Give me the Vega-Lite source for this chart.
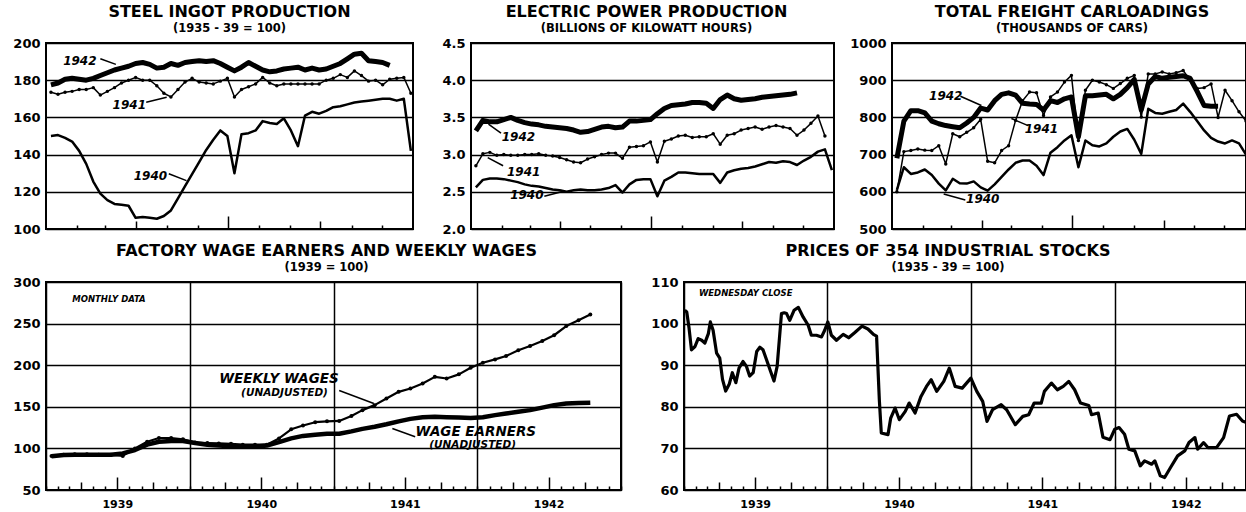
{
"$schema": "https://vega.github.io/schema/vega-lite/v6.json",
"padding": {"left": 11, "top": 2, "right": 0, "bottom": 0},
"background": "white",
"config": {
  "view": {"stroke": "black", "strokeWidth": 2},
  "font": "DejaVu Sans",
  "title": {"font": "DejaVu Sans", "fontSize": 16, "fontWeight": "bold", "color": "black", "subtitleFont": "DejaVu Sans", "subtitleFontSize": 11.5, "subtitleFontWeight": "bold", "subtitleColor": "black", "offset": 3, "subtitlePadding": 0, "anchor": "middle"},
  "axis": {"labelColor": "black", "labelFont": "DejaVu Sans", "labelFontWeight": "bold", "labelFontSize": 13, "tickColor": "black", "gridColor": "black", "gridWidth": 1.5, "domain": false, "labelOverlap": false},
  "line": {"color": "black", "strokeJoin": "round", "clip": true}
},
"datasets": {
"steel": [
{"year":1940,"week":1,"value":150},{"year":1940,"week":2,"value":150.5},{"year":1940,"week":3,"value":149},{"year":1940,"week":4,"value":147},{"year":1940,"week":5,"value":142},{"year":1940,"week":6,"value":135},{"year":1940,"week":7,"value":125.5},{"year":1940,"week":8,"value":119},{"year":1940,"week":9,"value":115.5},{"year":1940,"week":10,"value":113.5},{"year":1940,"week":11,"value":113},{"year":1940,"week":12,"value":112.5},{"year":1940,"week":13,"value":106},{"year":1940,"week":14,"value":106.5},{"year":1940,"week":15,"value":106},{"year":1940,"week":16,"value":105.5},{"year":1940,"week":17,"value":107},{"year":1940,"week":18,"value":110},{"year":1940,"week":19,"value":116.5},{"year":1940,"week":20,"value":123},{"year":1940,"week":21,"value":129.5},{"year":1940,"week":22,"value":136},{"year":1940,"week":23,"value":142.5},{"year":1940,"week":24,"value":148},{"year":1940,"week":25,"value":153},{"year":1940,"week":26,"value":150},{"year":1940,"week":27,"value":130},{"year":1940,"week":28,"value":151},{"year":1940,"week":29,"value":151.5},{"year":1940,"week":30,"value":153},{"year":1940,"week":31,"value":158},{"year":1940,"week":32,"value":157},{"year":1940,"week":33,"value":156.5},{"year":1940,"week":34,"value":159.5},{"year":1940,"week":35,"value":153},{"year":1940,"week":36,"value":144.5},{"year":1940,"week":37,"value":161},{"year":1940,"week":38,"value":163},{"year":1940,"week":39,"value":162},{"year":1940,"week":40,"value":163.5},{"year":1940,"week":41,"value":165.5},{"year":1940,"week":42,"value":166},{"year":1940,"week":43,"value":167},{"year":1940,"week":44,"value":168},{"year":1940,"week":45,"value":168.5},{"year":1940,"week":46,"value":169},{"year":1940,"week":47,"value":169.5},{"year":1940,"week":48,"value":170},{"year":1940,"week":49,"value":170},{"year":1940,"week":50,"value":169},{"year":1940,"week":51,"value":170},{"year":1940,"week":52,"value":142},
{"year":1941,"week":1,"value":173.5},{"year":1941,"week":2,"value":172.5},{"year":1941,"week":3,"value":173.5},{"year":1941,"week":4,"value":174},{"year":1941,"week":5,"value":175},{"year":1941,"week":6,"value":175},{"year":1941,"week":7,"value":176},{"year":1941,"week":8,"value":172},{"year":1941,"week":9,"value":174},{"year":1941,"week":10,"value":176},{"year":1941,"week":11,"value":178.5},{"year":1941,"week":12,"value":180},{"year":1941,"week":13,"value":181.5},{"year":1941,"week":14,"value":180},{"year":1941,"week":15,"value":180},{"year":1941,"week":16,"value":177},{"year":1941,"week":17,"value":173},{"year":1941,"week":18,"value":171},{"year":1941,"week":19,"value":175},{"year":1941,"week":20,"value":179},{"year":1941,"week":21,"value":181},{"year":1941,"week":22,"value":179},{"year":1941,"week":23,"value":178.5},{"year":1941,"week":24,"value":178},{"year":1941,"week":25,"value":179.5},{"year":1941,"week":26,"value":181},{"year":1941,"week":27,"value":171},{"year":1941,"week":28,"value":175},{"year":1941,"week":29,"value":176.5},{"year":1941,"week":30,"value":178},{"year":1941,"week":31,"value":181.5},{"year":1941,"week":32,"value":178.5},{"year":1941,"week":33,"value":177},{"year":1941,"week":34,"value":178},{"year":1941,"week":35,"value":178},{"year":1941,"week":36,"value":178},{"year":1941,"week":37,"value":178},{"year":1941,"week":38,"value":178},{"year":1941,"week":39,"value":178},{"year":1941,"week":40,"value":180},{"year":1941,"week":41,"value":181},{"year":1941,"week":42,"value":183},{"year":1941,"week":43,"value":181.5},{"year":1941,"week":44,"value":185},{"year":1941,"week":45,"value":182.5},{"year":1941,"week":46,"value":179.5},{"year":1941,"week":47,"value":180},{"year":1941,"week":48,"value":177.5},{"year":1941,"week":49,"value":180.5},{"year":1941,"week":50,"value":181},{"year":1941,"week":51,"value":181.5},{"year":1941,"week":52,"value":173},
{"year":1942,"week":1,"value":177.5},{"year":1942,"week":2,"value":178.5},{"year":1942,"week":3,"value":180.5},{"year":1942,"week":4,"value":181},{"year":1942,"week":5,"value":180.5},{"year":1942,"week":6,"value":180},{"year":1942,"week":7,"value":181},{"year":1942,"week":8,"value":182.5},{"year":1942,"week":9,"value":184},{"year":1942,"week":10,"value":185.5},{"year":1942,"week":11,"value":186.5},{"year":1942,"week":12,"value":187.5},{"year":1942,"week":13,"value":189},{"year":1942,"week":14,"value":189.5},{"year":1942,"week":15,"value":188.5},{"year":1942,"week":16,"value":186.5},{"year":1942,"week":17,"value":187},{"year":1942,"week":18,"value":189},{"year":1942,"week":19,"value":188},{"year":1942,"week":20,"value":189.5},{"year":1942,"week":21,"value":190},{"year":1942,"week":22,"value":190.5},{"year":1942,"week":23,"value":190},{"year":1942,"week":24,"value":190.5},{"year":1942,"week":25,"value":189},{"year":1942,"week":26,"value":187},{"year":1942,"week":27,"value":185},{"year":1942,"week":28,"value":187},{"year":1942,"week":29,"value":189.5},{"year":1942,"week":30,"value":187.5},{"year":1942,"week":31,"value":185.5},{"year":1942,"week":32,"value":184.5},{"year":1942,"week":33,"value":185},{"year":1942,"week":34,"value":186},{"year":1942,"week":35,"value":186.5},{"year":1942,"week":36,"value":187},{"year":1942,"week":37,"value":185.5},{"year":1942,"week":38,"value":186.5},{"year":1942,"week":39,"value":185.5},{"year":1942,"week":40,"value":186},{"year":1942,"week":41,"value":187.5},{"year":1942,"week":42,"value":189},{"year":1942,"week":43,"value":191.5},{"year":1942,"week":44,"value":194},{"year":1942,"week":45,"value":194.5},{"year":1942,"week":46,"value":190.5},{"year":1942,"week":47,"value":190},{"year":1942,"week":48,"value":189.5},{"year":1942,"week":49,"value":188}
],
"electric": [
{"year":1940,"week":1,"value":2.56},{"year":1940,"week":2,"value":2.66},{"year":1940,"week":3,"value":2.68},{"year":1940,"week":4,"value":2.68},{"year":1940,"week":5,"value":2.67},{"year":1940,"week":6,"value":2.65},{"year":1940,"week":7,"value":2.63},{"year":1940,"week":8,"value":2.6},{"year":1940,"week":9,"value":2.58},{"year":1940,"week":10,"value":2.57},{"year":1940,"week":11,"value":2.55},{"year":1940,"week":12,"value":2.53},{"year":1940,"week":13,"value":2.52},{"year":1940,"week":14,"value":2.5},{"year":1940,"week":15,"value":2.52},{"year":1940,"week":16,"value":2.53},{"year":1940,"week":17,"value":2.52},{"year":1940,"week":18,"value":2.52},{"year":1940,"week":19,"value":2.53},{"year":1940,"week":20,"value":2.55},{"year":1940,"week":21,"value":2.59},{"year":1940,"week":22,"value":2.49},{"year":1940,"week":23,"value":2.6},{"year":1940,"week":24,"value":2.66},{"year":1940,"week":25,"value":2.67},{"year":1940,"week":26,"value":2.67},{"year":1940,"week":27,"value":2.44},{"year":1940,"week":28,"value":2.65},{"year":1940,"week":29,"value":2.7},{"year":1940,"week":30,"value":2.76},{"year":1940,"week":31,"value":2.76},{"year":1940,"week":32,"value":2.75},{"year":1940,"week":33,"value":2.74},{"year":1940,"week":34,"value":2.74},{"year":1940,"week":35,"value":2.74},{"year":1940,"week":36,"value":2.62},{"year":1940,"week":37,"value":2.76},{"year":1940,"week":38,"value":2.79},{"year":1940,"week":39,"value":2.81},{"year":1940,"week":40,"value":2.82},{"year":1940,"week":41,"value":2.84},{"year":1940,"week":42,"value":2.87},{"year":1940,"week":43,"value":2.9},{"year":1940,"week":44,"value":2.89},{"year":1940,"week":45,"value":2.91},{"year":1940,"week":46,"value":2.9},{"year":1940,"week":47,"value":2.86},{"year":1940,"week":48,"value":2.92},{"year":1940,"week":49,"value":2.97},{"year":1940,"week":50,"value":3.04},{"year":1940,"week":51,"value":3.07},{"year":1940,"week":52,"value":2.79},
{"year":1941,"week":1,"value":2.85},{"year":1941,"week":2,"value":3.01},{"year":1941,"week":3,"value":3.03},{"year":1941,"week":4,"value":2.99},{"year":1941,"week":5,"value":3.0},{"year":1941,"week":6,"value":2.99},{"year":1941,"week":7,"value":2.99},{"year":1941,"week":8,"value":3.0},{"year":1941,"week":9,"value":3.0},{"year":1941,"week":10,"value":3.01},{"year":1941,"week":11,"value":2.99},{"year":1941,"week":12,"value":2.98},{"year":1941,"week":13,"value":2.96},{"year":1941,"week":14,"value":2.93},{"year":1941,"week":15,"value":2.9},{"year":1941,"week":16,"value":2.89},{"year":1941,"week":17,"value":2.94},{"year":1941,"week":18,"value":2.97},{"year":1941,"week":19,"value":3.0},{"year":1941,"week":20,"value":3.02},{"year":1941,"week":21,"value":3.02},{"year":1941,"week":22,"value":2.95},{"year":1941,"week":23,"value":3.1},{"year":1941,"week":24,"value":3.11},{"year":1941,"week":25,"value":3.12},{"year":1941,"week":26,"value":3.17},{"year":1941,"week":27,"value":2.9},{"year":1941,"week":28,"value":3.18},{"year":1941,"week":29,"value":3.21},{"year":1941,"week":30,"value":3.25},{"year":1941,"week":31,"value":3.26},{"year":1941,"week":32,"value":3.23},{"year":1941,"week":33,"value":3.24},{"year":1941,"week":34,"value":3.24},{"year":1941,"week":35,"value":3.28},{"year":1941,"week":36,"value":3.14},{"year":1941,"week":37,"value":3.26},{"year":1941,"week":38,"value":3.28},{"year":1941,"week":39,"value":3.33},{"year":1941,"week":40,"value":3.35},{"year":1941,"week":41,"value":3.37},{"year":1941,"week":42,"value":3.34},{"year":1941,"week":43,"value":3.37},{"year":1941,"week":44,"value":3.39},{"year":1941,"week":45,"value":3.37},{"year":1941,"week":46,"value":3.35},{"year":1941,"week":47,"value":3.26},{"year":1941,"week":48,"value":3.33},{"year":1941,"week":49,"value":3.42},{"year":1941,"week":50,"value":3.52},{"year":1941,"week":51,"value":3.25},
{"year":1942,"week":1,"value":3.32},{"year":1942,"week":2,"value":3.46},{"year":1942,"week":3,"value":3.44},{"year":1942,"week":4,"value":3.44},{"year":1942,"week":5,"value":3.47},{"year":1942,"week":6,"value":3.5},{"year":1942,"week":7,"value":3.46},{"year":1942,"week":8,"value":3.43},{"year":1942,"week":9,"value":3.41},{"year":1942,"week":10,"value":3.4},{"year":1942,"week":11,"value":3.38},{"year":1942,"week":12,"value":3.37},{"year":1942,"week":13,"value":3.36},{"year":1942,"week":14,"value":3.35},{"year":1942,"week":15,"value":3.33},{"year":1942,"week":16,"value":3.3},{"year":1942,"week":17,"value":3.31},{"year":1942,"week":18,"value":3.34},{"year":1942,"week":19,"value":3.37},{"year":1942,"week":20,"value":3.38},{"year":1942,"week":21,"value":3.36},{"year":1942,"week":22,"value":3.37},{"year":1942,"week":23,"value":3.45},{"year":1942,"week":24,"value":3.45},{"year":1942,"week":25,"value":3.46},{"year":1942,"week":26,"value":3.47},{"year":1942,"week":27,"value":3.55},{"year":1942,"week":28,"value":3.62},{"year":1942,"week":29,"value":3.66},{"year":1942,"week":30,"value":3.67},{"year":1942,"week":31,"value":3.68},{"year":1942,"week":32,"value":3.7},{"year":1942,"week":33,"value":3.7},{"year":1942,"week":34,"value":3.69},{"year":1942,"week":35,"value":3.62},{"year":1942,"week":36,"value":3.74},{"year":1942,"week":37,"value":3.8},{"year":1942,"week":38,"value":3.75},{"year":1942,"week":39,"value":3.73},{"year":1942,"week":40,"value":3.74},{"year":1942,"week":41,"value":3.75},{"year":1942,"week":42,"value":3.77},{"year":1942,"week":43,"value":3.78},{"year":1942,"week":44,"value":3.79},{"year":1942,"week":45,"value":3.8},{"year":1942,"week":46,"value":3.81},{"year":1942,"week":47,"value":3.83}
],
"freight": [
{"year":1940,"week":1,"value":605},{"year":1940,"week":2,"value":666},{"year":1940,"week":3,"value":648},{"year":1940,"week":4,"value":652},{"year":1940,"week":5,"value":660},{"year":1940,"week":6,"value":645},{"year":1940,"week":7,"value":622},{"year":1940,"week":8,"value":604},{"year":1940,"week":9,"value":635},{"year":1940,"week":10,"value":623},{"year":1940,"week":11,"value":622},{"year":1940,"week":12,"value":628},{"year":1940,"week":13,"value":612},{"year":1940,"week":14,"value":603},{"year":1940,"week":15,"value":620},{"year":1940,"week":16,"value":640},{"year":1940,"week":17,"value":660},{"year":1940,"week":18,"value":678},{"year":1940,"week":19,"value":684},{"year":1940,"week":20,"value":684},{"year":1940,"week":21,"value":670},{"year":1940,"week":22,"value":645},{"year":1940,"week":23,"value":705},{"year":1940,"week":24,"value":720},{"year":1940,"week":25,"value":738},{"year":1940,"week":26,"value":752},{"year":1940,"week":27,"value":666},{"year":1940,"week":28,"value":738},{"year":1940,"week":29,"value":725},{"year":1940,"week":30,"value":722},{"year":1940,"week":31,"value":730},{"year":1940,"week":32,"value":748},{"year":1940,"week":33,"value":762},{"year":1940,"week":34,"value":769},{"year":1940,"week":35,"value":740},{"year":1940,"week":36,"value":702},{"year":1940,"week":37,"value":823},{"year":1940,"week":38,"value":812},{"year":1940,"week":39,"value":810},{"year":1940,"week":40,"value":815},{"year":1940,"week":41,"value":820},{"year":1940,"week":42,"value":837},{"year":1940,"week":43,"value":815},{"year":1940,"week":44,"value":790},{"year":1940,"week":45,"value":765},{"year":1940,"week":46,"value":745},{"year":1940,"week":47,"value":735},{"year":1940,"week":48,"value":730},{"year":1940,"week":49,"value":738},{"year":1940,"week":50,"value":730},{"year":1940,"week":51,"value":700},
{"year":1941,"week":1,"value":600},{"year":1941,"week":2,"value":708},{"year":1941,"week":3,"value":711},{"year":1941,"week":4,"value":715},{"year":1941,"week":5,"value":712},{"year":1941,"week":6,"value":711},{"year":1941,"week":7,"value":724},{"year":1941,"week":8,"value":675},{"year":1941,"week":9,"value":756},{"year":1941,"week":10,"value":748},{"year":1941,"week":11,"value":760},{"year":1941,"week":12,"value":772},{"year":1941,"week":13,"value":795},{"year":1941,"week":14,"value":682},{"year":1941,"week":15,"value":678},{"year":1941,"week":16,"value":711},{"year":1941,"week":17,"value":724},{"year":1941,"week":18,"value":792},{"year":1941,"week":19,"value":845},{"year":1941,"week":20,"value":868},{"year":1941,"week":21,"value":866},{"year":1941,"week":22,"value":805},{"year":1941,"week":23,"value":855},{"year":1941,"week":24,"value":868},{"year":1941,"week":25,"value":895},{"year":1941,"week":26,"value":913},{"year":1941,"week":27,"value":738},{"year":1941,"week":28,"value":873},{"year":1941,"week":29,"value":900},{"year":1941,"week":30,"value":895},{"year":1941,"week":31,"value":888},{"year":1941,"week":32,"value":878},{"year":1941,"week":33,"value":891},{"year":1941,"week":34,"value":905},{"year":1941,"week":35,"value":913},{"year":1941,"week":36,"value":801},{"year":1941,"week":37,"value":917},{"year":1941,"week":38,"value":917},{"year":1941,"week":39,"value":922},{"year":1941,"week":40,"value":917},{"year":1941,"week":41,"value":920},{"year":1941,"week":42,"value":926},{"year":1941,"week":43,"value":900},{"year":1941,"week":44,"value":878},{"year":1941,"week":45,"value":880},{"year":1941,"week":46,"value":890},{"year":1941,"week":47,"value":800},{"year":1941,"week":48,"value":873},{"year":1941,"week":49,"value":845},{"year":1941,"week":50,"value":815},{"year":1941,"week":51,"value":790},
{"year":1942,"week":1,"value":690},{"year":1942,"week":2,"value":790},{"year":1942,"week":3,"value":818},{"year":1942,"week":4,"value":818},{"year":1942,"week":5,"value":812},{"year":1942,"week":6,"value":790},{"year":1942,"week":7,"value":783},{"year":1942,"week":8,"value":778},{"year":1942,"week":9,"value":775},{"year":1942,"week":10,"value":772},{"year":1942,"week":11,"value":785},{"year":1942,"week":12,"value":800},{"year":1942,"week":13,"value":825},{"year":1942,"week":14,"value":820},{"year":1942,"week":15,"value":845},{"year":1942,"week":16,"value":862},{"year":1942,"week":17,"value":866},{"year":1942,"week":18,"value":860},{"year":1942,"week":19,"value":838},{"year":1942,"week":20,"value":836},{"year":1942,"week":21,"value":835},{"year":1942,"week":22,"value":820},{"year":1942,"week":23,"value":845},{"year":1942,"week":24,"value":840},{"year":1942,"week":25,"value":850},{"year":1942,"week":26,"value":855},{"year":1942,"week":27,"value":748},{"year":1942,"week":28,"value":858},{"year":1942,"week":29,"value":858},{"year":1942,"week":30,"value":860},{"year":1942,"week":31,"value":862},{"year":1942,"week":32,"value":850},{"year":1942,"week":33,"value":862},{"year":1942,"week":34,"value":880},{"year":1942,"week":35,"value":902},{"year":1942,"week":36,"value":820},{"year":1942,"week":37,"value":890},{"year":1942,"week":38,"value":910},{"year":1942,"week":39,"value":905},{"year":1942,"week":40,"value":908},{"year":1942,"week":41,"value":910},{"year":1942,"week":42,"value":912},{"year":1942,"week":43,"value":905},{"year":1942,"week":44,"value":870},{"year":1942,"week":45,"value":832},{"year":1942,"week":46,"value":830},{"year":1942,"week":47,"value":830}
],
"topnotes": [
{"panel":"steel","week":5.1,"value":190.3,"text":"1942","aw1":8.0,"av1":191.5,"aw2":10.2,"av2":188.5},
{"panel":"steel","week":12.1,"value":166.5,"text":"1941","aw1":14.5,"av1":168.1,"aw2":17.4,"av2":170.8},
{"panel":"steel","week":15.1,"value":128.6,"text":"1940","aw1":17.7,"av1":129.7,"aw2":20.2,"av2":126},
{"panel":"electric","week":7.1,"value":3.24,"text":"1942","aw1":4.6,"av1":3.29,"aw2":2.8,"av2":3.41},
{"panel":"electric","week":7.85,"value":2.77,"text":"1941","aw1":4.9,"av1":2.85,"aw2":2.7,"av2":2.96},
{"panel":"electric","week":8.3,"value":2.46,"text":"1940","aw1":10.8,"av1":2.44,"aw2":13.7,"av2":2.51},
{"panel":"freight","week":8.0,"value":857,"text":"1942","aw1":10.1,"av1":857,"aw2":13.1,"av2":832},
{"panel":"freight","week":21.7,"value":770,"text":"1941","aw1":19.8,"av1":778,"aw2":17.4,"av2":797},
{"panel":"freight","week":13.3,"value":581,"text":"1940","aw1":10.8,"av1":578,"aw2":7.7,"av2":594}
],
"wages": [
{"series":"wages","date":"1939-01-15","value":91},{"series":"wages","date":"1939-02-15","value":92.5},{"series":"wages","date":"1939-03-15","value":93},{"series":"wages","date":"1939-04-15","value":93},{"series":"wages","date":"1939-05-15","value":92.5},{"series":"wages","date":"1939-06-15","value":92.5},{"series":"wages","date":"1939-07-15","value":91},{"series":"wages","date":"1939-08-15","value":100},{"series":"wages","date":"1939-09-15","value":108},{"series":"wages","date":"1939-10-15","value":112.5},{"series":"wages","date":"1939-11-15","value":112.5},{"series":"wages","date":"1939-12-15","value":111},
{"series":"wages","date":"1940-01-15","value":107},{"series":"wages","date":"1940-02-15","value":106.5},{"series":"wages","date":"1940-03-15","value":106},{"series":"wages","date":"1940-04-15","value":105.5},{"series":"wages","date":"1940-05-15","value":104.5},{"series":"wages","date":"1940-06-15","value":104.5},{"series":"wages","date":"1940-07-15","value":104.5},{"series":"wages","date":"1940-08-15","value":112},{"series":"wages","date":"1940-09-15","value":123},{"series":"wages","date":"1940-10-15","value":127.5},{"series":"wages","date":"1940-11-15","value":131.5},{"series":"wages","date":"1940-12-15","value":132.5},
{"series":"wages","date":"1941-01-15","value":133},{"series":"wages","date":"1941-02-15","value":139},{"series":"wages","date":"1941-03-15","value":146},{"series":"wages","date":"1941-04-15","value":152},{"series":"wages","date":"1941-05-15","value":160},{"series":"wages","date":"1941-06-15","value":168},{"series":"wages","date":"1941-07-15","value":172},{"series":"wages","date":"1941-08-15","value":178},{"series":"wages","date":"1941-09-15","value":186},{"series":"wages","date":"1941-10-15","value":184},{"series":"wages","date":"1941-11-15","value":189},{"series":"wages","date":"1941-12-15","value":197},
{"series":"wages","date":"1942-01-15","value":203},{"series":"wages","date":"1942-02-15","value":207},{"series":"wages","date":"1942-03-15","value":211},{"series":"wages","date":"1942-04-15","value":218},{"series":"wages","date":"1942-05-15","value":223},{"series":"wages","date":"1942-06-15","value":229},{"series":"wages","date":"1942-07-15","value":236},{"series":"wages","date":"1942-08-15","value":247},{"series":"wages","date":"1942-09-15","value":254},{"series":"wages","date":"1942-10-15","value":261},
{"series":"earners","date":"1939-01-15","value":90.5},{"series":"earners","date":"1939-02-15","value":92},{"series":"earners","date":"1939-03-15","value":92.5},{"series":"earners","date":"1939-04-15","value":92.5},{"series":"earners","date":"1939-05-15","value":92.5},{"series":"earners","date":"1939-06-15","value":92.5},{"series":"earners","date":"1939-07-15","value":94},{"series":"earners","date":"1939-08-15","value":98},{"series":"earners","date":"1939-09-15","value":104.5},{"series":"earners","date":"1939-10-15","value":108},{"series":"earners","date":"1939-11-15","value":109},{"series":"earners","date":"1939-12-15","value":109},
{"series":"earners","date":"1940-01-15","value":106.5},{"series":"earners","date":"1940-02-15","value":104.5},{"series":"earners","date":"1940-03-15","value":103.5},{"series":"earners","date":"1940-04-15","value":102.5},{"series":"earners","date":"1940-05-15","value":102},{"series":"earners","date":"1940-06-15","value":102},{"series":"earners","date":"1940-07-15","value":103.5},{"series":"earners","date":"1940-08-15","value":107.5},{"series":"earners","date":"1940-09-15","value":112},{"series":"earners","date":"1940-10-15","value":115},{"series":"earners","date":"1940-11-15","value":116.5},{"series":"earners","date":"1940-12-15","value":117.5},
{"series":"earners","date":"1941-01-15","value":117.7},{"series":"earners","date":"1941-02-15","value":120.5},{"series":"earners","date":"1941-03-15","value":123.5},{"series":"earners","date":"1941-04-15","value":126},{"series":"earners","date":"1941-05-15","value":129},{"series":"earners","date":"1941-06-15","value":132.5},{"series":"earners","date":"1941-07-15","value":135.5},{"series":"earners","date":"1941-08-15","value":137.5},{"series":"earners","date":"1941-09-15","value":138},{"series":"earners","date":"1941-10-15","value":137.5},{"series":"earners","date":"1941-11-15","value":137},{"series":"earners","date":"1941-12-15","value":136.5},
{"series":"earners","date":"1942-01-15","value":137.5},{"series":"earners","date":"1942-02-15","value":140},{"series":"earners","date":"1942-03-15","value":142},{"series":"earners","date":"1942-04-15","value":144},{"series":"earners","date":"1942-05-15","value":146},{"series":"earners","date":"1942-06-15","value":149},{"series":"earners","date":"1942-07-15","value":152},{"series":"earners","date":"1942-08-15","value":154},{"series":"earners","date":"1942-09-15","value":154.5},{"series":"earners","date":"1942-10-15","value":155}
],
"stocks": [
{"date":"1939-01-03","value":103.2},{"date":"1939-01-08","value":102.8},{"date":"1939-01-14","value":98.8},{"date":"1939-01-20","value":93.7},{"date":"1939-01-29","value":94.5},{"date":"1939-02-06","value":96.4},{"date":"1939-02-15","value":96},{"date":"1939-02-23","value":95.3},{"date":"1939-03-04","value":97.6},{"date":"1939-03-09","value":100.4},{"date":"1939-03-16","value":98.4},{"date":"1939-03-25","value":92.9},{"date":"1939-04-02","value":91.7},{"date":"1939-04-09","value":86.6},{"date":"1939-04-17","value":83.8},{"date":"1939-04-26","value":85.4},{"date":"1939-05-04","value":88.2},{"date":"1939-05-13","value":85.8},{"date":"1939-05-21","value":89.3},{"date":"1939-05-31","value":90.9},{"date":"1939-06-09","value":89.7},{"date":"1939-06-17","value":87.4},{"date":"1939-06-26","value":88.2},{"date":"1939-07-05","value":93.3},{"date":"1939-07-13","value":94.3},{"date":"1939-07-21","value":93.7},{"date":"1939-07-30","value":91.3},{"date":"1939-08-09","value":88.6},{"date":"1939-08-18","value":86.2},{"date":"1939-08-26","value":89.7},{"date":"1939-09-06","value":102.4},{"date":"1939-09-13","value":102.6},{"date":"1939-09-19","value":102.4},{"date":"1939-09-27","value":100.8},{"date":"1939-10-08","value":103.2},{"date":"1939-10-19","value":103.9},{"date":"1939-10-31","value":101.6},{"date":"1939-11-13","value":99.6},{"date":"1939-11-21","value":97.2},{"date":"1939-12-04","value":97.2},{"date":"1939-12-17","value":96.8},{"date":"1939-12-25","value":98.4},
{"date":"1940-01-02","value":100.4},{"date":"1940-01-11","value":97.2},{"date":"1940-01-24","value":96},{"date":"1940-02-10","value":97.4},{"date":"1940-02-24","value":96.6},{"date":"1940-03-10","value":97.8},{"date":"1940-03-29","value":99.4},{"date":"1940-04-13","value":98.7},{"date":"1940-04-27","value":97.4},{"date":"1940-05-05","value":97},{"date":"1940-05-12","value":81.7},{"date":"1940-05-17","value":73.7},{"date":"1940-06-03","value":73.3},{"date":"1940-06-10","value":77.3},{"date":"1940-06-21","value":79.7},{"date":"1940-07-02","value":76.9},{"date":"1940-07-17","value":78.9},{"date":"1940-07-27","value":80.9},{"date":"1940-08-11","value":78.5},{"date":"1940-08-26","value":82.5},{"date":"1940-09-09","value":84.9},{"date":"1940-09-21","value":86.5},{"date":"1940-10-05","value":83.7},{"date":"1940-10-23","value":86.1},{"date":"1940-11-06","value":89.3},{"date":"1940-11-21","value":84.9},{"date":"1940-12-09","value":84.5},{"date":"1940-12-31","value":86.9},
{"date":"1941-01-15","value":83.7},{"date":"1941-01-30","value":81.3},{"date":"1941-02-10","value":76.5},{"date":"1941-02-24","value":79.3},{"date":"1941-03-18","value":80.5},{"date":"1941-04-01","value":79.3},{"date":"1941-04-23","value":75.7},{"date":"1941-05-12","value":77.7},{"date":"1941-05-27","value":78.1},{"date":"1941-06-10","value":80.9},{"date":"1941-06-28","value":80.9},{"date":"1941-07-06","value":83.7},{"date":"1941-07-24","value":85.7},{"date":"1941-08-08","value":84.1},{"date":"1941-08-23","value":84.9},{"date":"1941-09-06","value":86.1},{"date":"1941-09-21","value":84.1},{"date":"1941-10-06","value":80.9},{"date":"1941-10-27","value":80.3},{"date":"1941-11-03","value":78.1},{"date":"1941-11-20","value":78.5},{"date":"1941-12-02","value":72.7},{"date":"1941-12-20","value":72.1},
{"date":"1942-01-01","value":74.6},{"date":"1942-01-12","value":75},{"date":"1942-01-26","value":73.4},{"date":"1942-02-06","value":69.8},{"date":"1942-02-21","value":69.4},{"date":"1942-03-07","value":65.8},{"date":"1942-03-18","value":67},{"date":"1942-04-05","value":66.2},{"date":"1942-04-13","value":67},{"date":"1942-04-27","value":63.4},{"date":"1942-05-08","value":63},{"date":"1942-05-23","value":65.4},{"date":"1942-06-10","value":68.2},{"date":"1942-06-28","value":69.4},{"date":"1942-07-09","value":71.4},{"date":"1942-07-24","value":72.6},{"date":"1942-07-31","value":69.8},{"date":"1942-08-15","value":71.4},{"date":"1942-08-26","value":70.2},{"date":"1942-09-17","value":70.2},{"date":"1942-10-05","value":72.6},{"date":"1942-10-20","value":77.8},{"date":"1942-11-07","value":78.2},{"date":"1942-11-22","value":76.6},{"date":"1942-12-02","value":76.2}
],
"botnotes": [
{"panel":"wages","date":"1939-06-10","value":279.6,"text":"MONTHLY DATA","kind":"tag"},
{"panel":"wages","date":"1940-08-15","value":183.5,"text":"WEEKLY WAGES","kind":"big","d1":"1941-01-15","v1":169.5,"d2":"1941-04-13","v2":153.9},
{"panel":"wages","date":"1940-08-29","value":166.4,"text":"(UNADJUSTED)","kind":"small"},
{"panel":"wages","date":"1941-12-28","value":119.5,"text":"WAGE EARNERS","kind":"big","d1":"1941-07-27","v1":114,"d2":"1941-05-30","v2":124},
{"panel":"wages","date":"1941-12-20","value":104,"text":"(UNADJUSTED)","kind":"small"},
{"panel":"stocks","date":"1939-06-07","value":107.4,"text":"WEDNESDAY CLOSE","kind":"tag"}
]
},
"spacing": 4,
"resolve": {"scale": {"x": "independent", "y": "independent"}},
"vconcat": [
{
"hconcat": [
{
"width": 367, "height": 186,
"title": {"text": "STEEL INGOT PRODUCTION", "subtitle": "(1935 - 39 = 100)"},
"layer": [
{"data": {"name": "steel"}, "transform": [{"filter": "datum.year == 1940"}], "mark": {"type": "line", "strokeWidth": 2.5},
 "encoding": {
  "x": {"field": "week", "type": "quantitative", "title": null, "scale": {"domain": [0.3, 52.3], "nice": false, "zero": false},
        "axis": {"title": null, "labels": false, "grid": false, "ticks": true, "tickCount": 50, "values": [4.72, 8.71, 13.12, 17.4, 21.81, 26.09, 30.5, 34.92, 39.19, 43.61, 47.88], "tickWidth": 1.5, "tickSize": {"expr": "abs(datum.value - 26.09) < 0.1 ? -13 : (abs(datum.value - 13.12) < 0.1 || abs(datum.value - 39.19) < 0.1) ? -8 : -4"}}},
  "y": {"field": "value", "type": "quantitative", "title": null, "scale": {"domain": [100, 200], "nice": false, "zero": false},
        "axis": {"title": null, "values": [100, 120, 140, 160, 180, 200], "tickCount": 50, "ticks": false, "labelPadding": 6}}
 }},
{"data": {"name": "steel"}, "transform": [{"filter": "datum.year == 1941"}], "mark": {"type": "line", "strokeWidth": 1.5, "point": {"filled": true, "color": "black", "size": 12, "opacity": 1}},
 "encoding": {"x": {"field": "week", "type": "quantitative", "title": null}, "y": {"field": "value", "type": "quantitative", "title": null}}},
{"data": {"name": "steel"}, "transform": [{"filter": "datum.year == 1942"}], "mark": {"type": "line", "strokeWidth": 5},
 "encoding": {"x": {"field": "week", "type": "quantitative", "title": null}, "y": {"field": "value", "type": "quantitative", "title": null}}},
{"data": {"name": "topnotes"}, "transform": [{"filter": "datum.panel == 'steel'"}], "mark": {"type": "rule", "color": "black", "strokeWidth": 1.5},
 "encoding": {"x": {"field": "aw1", "type": "quantitative", "title": null}, "y": {"field": "av1", "type": "quantitative", "title": null}, "x2": {"field": "aw2"}, "y2": {"field": "av2"}}},
{"data": {"name": "topnotes"}, "transform": [{"filter": "datum.panel == 'steel'"}], "mark": {"type": "text", "font": "DejaVu Sans", "fontStyle": "italic", "fontWeight": "bold", "fontSize": 12, "color": "black"},
 "encoding": {"x": {"field": "week", "type": "quantitative", "title": null}, "y": {"field": "value", "type": "quantitative", "title": null}, "text": {"field": "text"}}}
]
},
{
"width": 363, "height": 186,
"title": {"text": "ELECTRIC POWER PRODUCTION", "subtitle": "(BILLIONS OF KILOWATT HOURS)", "dx": -6},
"layer": [
{"data": {"name": "electric"}, "transform": [{"filter": "datum.year == 1940"}], "mark": {"type": "line", "strokeWidth": 2.5},
 "encoding": {
  "x": {"field": "week", "type": "quantitative", "title": null, "scale": {"domain": [0.3, 52.3], "nice": false, "zero": false},
        "axis": {"title": null, "labels": false, "grid": false, "ticks": true, "tickCount": 50, "values": [4.72, 8.71, 13.12, 17.4, 21.81, 26.09, 30.5, 34.92, 39.19, 43.61, 47.88], "tickWidth": 1.5, "tickSize": {"expr": "abs(datum.value - 26.09) < 0.1 ? -13 : (abs(datum.value - 13.12) < 0.1 || abs(datum.value - 39.19) < 0.1) ? -8 : -4"}}},
  "y": {"field": "value", "type": "quantitative", "title": null, "scale": {"domain": [2, 4.5], "nice": false, "zero": false},
        "axis": {"title": null, "values": [2, 2.5, 3, 3.5, 4, 4.5], "tickCount": 50, "format": ".1f", "ticks": false, "labelPadding": 6}}
 }},
{"data": {"name": "electric"}, "transform": [{"filter": "datum.year == 1941"}], "mark": {"type": "line", "strokeWidth": 1.5, "point": {"filled": true, "color": "black", "size": 12, "opacity": 1}},
 "encoding": {"x": {"field": "week", "type": "quantitative", "title": null}, "y": {"field": "value", "type": "quantitative", "title": null}}},
{"data": {"name": "electric"}, "transform": [{"filter": "datum.year == 1942"}], "mark": {"type": "line", "strokeWidth": 5},
 "encoding": {"x": {"field": "week", "type": "quantitative", "title": null}, "y": {"field": "value", "type": "quantitative", "title": null}}},
{"data": {"name": "topnotes"}, "transform": [{"filter": "datum.panel == 'electric'"}], "mark": {"type": "rule", "color": "black", "strokeWidth": 1.5},
 "encoding": {"x": {"field": "aw1", "type": "quantitative", "title": null}, "y": {"field": "av1", "type": "quantitative", "title": null}, "x2": {"field": "aw2"}, "y2": {"field": "av2"}}},
{"data": {"name": "topnotes"}, "transform": [{"filter": "datum.panel == 'electric'"}], "mark": {"type": "text", "font": "DejaVu Sans", "fontStyle": "italic", "fontWeight": "bold", "fontSize": 12, "color": "black"},
 "encoding": {"x": {"field": "week", "type": "quantitative", "title": null}, "y": {"field": "value", "type": "quantitative", "title": null}, "text": {"field": "text"}}}
]
},
{
"width": 354, "height": 186,
"title": {"text": "TOTAL FREIGHT CARLOADINGS", "subtitle": "(THOUSANDS OF CARS)", "dx": 3},
"layer": [
{"data": {"name": "freight"}, "transform": [{"filter": "datum.year == 1940"}], "mark": {"type": "line", "strokeWidth": 2.5},
 "encoding": {
  "x": {"field": "week", "type": "quantitative", "title": null, "scale": {"domain": [0.3, 51.0], "nice": false, "zero": false},
        "axis": {"title": null, "labels": false, "grid": false, "ticks": true, "tickCount": 50, "values": [4.72, 8.71, 13.12, 17.4, 21.81, 26.09, 30.5, 34.92, 39.19, 43.61, 47.88], "tickWidth": 1.5, "tickSize": {"expr": "abs(datum.value - 26.09) < 0.1 ? -14 : (abs(datum.value - 13.12) < 0.1 || abs(datum.value - 39.19) < 0.1) ? -9 : -4"}}},
  "y": {"field": "value", "type": "quantitative", "title": null, "scale": {"domain": [500, 1000], "nice": false, "zero": false},
        "axis": {"title": null, "values": [500, 600, 700, 800, 900, 1000], "tickCount": 50, "format": "d", "ticks": false, "labelPadding": 6}}
 }},
{"data": {"name": "freight"}, "transform": [{"filter": "datum.year == 1941"}], "mark": {"type": "line", "strokeWidth": 1.5, "point": {"filled": true, "color": "black", "size": 12, "opacity": 1, "clip": true}},
 "encoding": {"x": {"field": "week", "type": "quantitative", "title": null}, "y": {"field": "value", "type": "quantitative", "title": null}}},
{"data": {"name": "freight"}, "transform": [{"filter": "datum.year == 1942"}], "mark": {"type": "line", "strokeWidth": 5},
 "encoding": {"x": {"field": "week", "type": "quantitative", "title": null}, "y": {"field": "value", "type": "quantitative", "title": null}}},
{"data": {"name": "topnotes"}, "transform": [{"filter": "datum.panel == 'freight'"}], "mark": {"type": "rule", "color": "black", "strokeWidth": 1.5},
 "encoding": {"x": {"field": "aw1", "type": "quantitative", "title": null}, "y": {"field": "av1", "type": "quantitative", "title": null}, "x2": {"field": "aw2"}, "y2": {"field": "av2"}}},
{"data": {"name": "topnotes"}, "transform": [{"filter": "datum.panel == 'freight'"}], "mark": {"type": "text", "font": "DejaVu Sans", "fontStyle": "italic", "fontWeight": "bold", "fontSize": 12, "color": "black"},
 "encoding": {"x": {"field": "week", "type": "quantitative", "title": null}, "y": {"field": "value", "type": "quantitative", "title": null}, "text": {"field": "text"}}}
]
}
],
"spacing": 58,
"bounds": "flush",
"resolve": {"scale": {"x": "independent", "y": "independent"}}
},
{
"hconcat": [
{
"width": 575, "height": 208,
"title": {"text": "FACTORY WAGE EARNERS AND WEEKLY WAGES", "subtitle": "(1939 = 100)", "dx": -7},
"layer": [
{"data": {"name": "wages"}, "transform": [{"filter": "datum.series == 'earners'"}], "mark": {"type": "line", "strokeWidth": 4.5},
 "encoding": {
  "x": {"field": "date", "type": "temporal", "title": null, "scale": {"type": "utc", "domain": [{"year": 1939, "month": 1, "date": 1, "utc": true}, {"year": 1943, "month": 1, "date": 1, "utc": true}], "nice": false},
        "axis": {"title": null, "tickCount": {"interval": "month", "step": 1}, "tickWidth": 1.5, "tickSize": {"expr": "utcmonth(datum.value) == 6 ? -13 : (utcmonth(datum.value) == 3 || utcmonth(datum.value) == 9) ? -8 : -4"}, "grid": true, "gridOpacity": {"condition": {"test": "utcmonth(datum.value) == 0", "value": 1}, "value": 0}, "labelExpr": "utcmonth(datum.value) == 6 ? utcFormat(datum.value, '%Y') : ''", "labelOverlap": false, "labelFlush": false, "labelFontSize": 11, "labelPadding": 21}},
  "y": {"field": "value", "type": "quantitative", "title": null, "scale": {"domain": [50, 300], "nice": false, "zero": false},
        "axis": {"title": null, "values": [50, 100, 150, 200, 250, 300], "tickCount": 50, "ticks": false, "labelPadding": 6}}
 }},
{"data": {"name": "wages"}, "transform": [{"filter": "datum.series == 'wages'"}], "mark": {"type": "line", "strokeWidth": 2.2, "point": {"filled": true, "color": "black", "size": 16, "opacity": 1}},
 "encoding": {"x": {"field": "date", "type": "temporal", "title": null}, "y": {"field": "value", "type": "quantitative", "title": null}}},
{"data": {"name": "botnotes"}, "transform": [{"filter": "datum.panel == 'wages' && datum.d1"}], "mark": {"type": "rule", "color": "black", "strokeWidth": 1.5},
 "encoding": {"x": {"field": "d1", "type": "temporal", "title": null}, "y": {"field": "v1", "type": "quantitative", "title": null}, "x2": {"field": "d2"}, "y2": {"field": "v2"}}},
{"data": {"name": "botnotes"}, "transform": [{"filter": "datum.panel == 'wages' && datum.kind == 'tag'"}], "mark": {"type": "text", "font": "DejaVu Sans", "fontStyle": "italic", "fontWeight": "bold", "fontSize": 8.5, "color": "black"},
 "encoding": {"x": {"field": "date", "type": "temporal", "title": null}, "y": {"field": "value", "type": "quantitative", "title": null}, "text": {"field": "text"}}},
{"data": {"name": "botnotes"}, "transform": [{"filter": "datum.panel == 'wages' && datum.kind == 'big'"}], "mark": {"type": "text", "font": "DejaVu Sans", "fontStyle": "italic", "fontWeight": "bold", "fontSize": 13.5, "color": "black"},
 "encoding": {"x": {"field": "date", "type": "temporal", "title": null}, "y": {"field": "value", "type": "quantitative", "title": null}, "text": {"field": "text"}}},
{"data": {"name": "botnotes"}, "transform": [{"filter": "datum.panel == 'wages' && datum.kind == 'small'"}], "mark": {"type": "text", "font": "DejaVu Sans", "fontStyle": "italic", "fontWeight": "bold", "fontSize": 10.5, "color": "black"},
 "encoding": {"x": {"field": "date", "type": "temporal", "title": null}, "y": {"field": "value", "type": "quantitative", "title": null}, "text": {"field": "text"}}}
]
},
{
"width": 562, "height": 208,
"title": {"text": "PRICES OF 354 INDUSTRIAL STOCKS", "subtitle": "(1935 - 39 = 100)", "dx": -17},
"layer": [
{"data": {"name": "stocks"}, "mark": {"type": "line", "strokeWidth": 3.2},
 "encoding": {
  "x": {"field": "date", "type": "temporal", "title": null, "scale": {"type": "utc", "domain": [{"year": 1939, "month": 1, "date": 1, "utc": true}, {"year": 1942, "month": 12, "date": 1, "utc": true}], "nice": false},
        "axis": {"title": null, "tickCount": {"interval": "month", "step": 1}, "tickWidth": 1.5, "tickSize": {"expr": "utcmonth(datum.value) == 6 ? -13 : (utcmonth(datum.value) == 3 || utcmonth(datum.value) == 9) ? -8 : -4"}, "grid": true, "gridOpacity": {"condition": {"test": "utcmonth(datum.value) == 0", "value": 1}, "value": 0}, "labelExpr": "utcmonth(datum.value) == 6 ? utcFormat(datum.value, '%Y') : ''", "labelOverlap": false, "labelFlush": false, "labelFontSize": 11, "labelPadding": 21}},
  "y": {"field": "value", "type": "quantitative", "title": null, "scale": {"domain": [60, 110], "nice": false, "zero": false},
        "axis": {"title": null, "values": [60, 70, 80, 90, 100, 110], "tickCount": 50, "ticks": false, "labelPadding": 6}}
 }},
{"data": {"name": "botnotes"}, "transform": [{"filter": "datum.panel == 'stocks'"}], "mark": {"type": "text", "font": "DejaVu Sans", "fontStyle": "italic", "fontWeight": "bold", "fontSize": 8.5, "color": "black"},
 "encoding": {"x": {"field": "date", "type": "temporal", "title": null}, "y": {"field": "value", "type": "quantitative", "title": null}, "text": {"field": "text"}}}
]
}
],
"spacing": 63,
"bounds": "flush",
"resolve": {"scale": {"x": "independent", "y": "independent"}}
}
]
}
